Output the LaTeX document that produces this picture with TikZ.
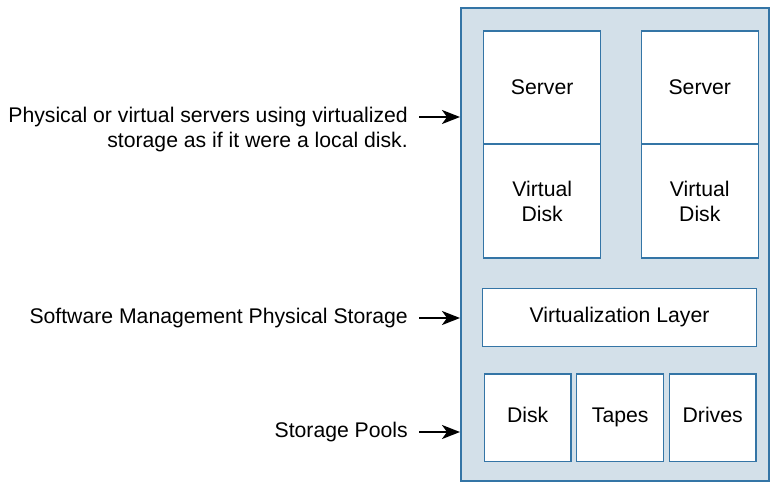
\documentclass[tikz,border=0pt]{standalone}
\usepackage{fontspec}
\setmainfont{Liberation Sans}
\usetikzlibrary{arrows.meta}
\definecolor{panelfill}{RGB}{211,224,233}
\definecolor{panelline}{RGB}{52,117,166}
\tikzset{
  panel/.style={draw=panelline,fill=panelfill,line width=2pt},
  unit/.style={draw=panelline,fill=white,line width=1.2pt,align=center,inner sep=0pt},
  pool/.style={unit,text height=15pt,text depth=4.5pt},
  caption/.style={anchor=east,inner sep=0pt},
  pointer/.style={-{Stealth[length=18pt,width=14pt,inset=5pt]},line width=2.4pt,shorten <=11pt}
}
\begin{document}
\begin{tikzpicture}[x=1pt,y=-1pt,font=\fontsize{21.2}{25}\selectfont]
\useasboundingbox (0,0) rectangle (770,483);
% draw outer panel
\node[panel,minimum width=308pt,minimum height=473pt] (panel) at (615,244.5) {};
% draw servers with their virtual disks
\node[unit,minimum width=117pt,minimum height=113pt] (srvA) at (542.2,87.5) {Server};
\node[unit,minimum width=117pt,minimum height=114pt] (vdA) at (542.2,201) {Virtual\\Disk};
\node[unit,minimum width=117pt,minimum height=113pt] (srvB) at (699.8,87.5) {Server};
\node[unit,minimum width=117pt,minimum height=114pt] (vdB) at (699.8,201) {Virtual\\Disk};
% draw virtualization layer
\node[unit,minimum width=273.6pt,minimum height=58pt] (layer) at (619.5,317.3) {Virtualization Layer};
% draw storage pools
\node[pool,minimum width=86.7pt,minimum height=87.3pt] (disk) at (527.7,417.7) {Disk};
\node[pool,minimum width=87pt,minimum height=87.3pt] (tapes) at (620.2,417.7) {Tapes};
\node[pool,minimum width=86.7pt,minimum height=87.3pt] (drives) at (712.7,417.7) {Drives};
% draw descriptions
\node[caption] (phys) at (408,117) {Physical or virtual servers using virtualized};
\node[caption,anchor=north east] (physb) at ([yshift=-5pt]phys.south east) {storage as if it were a local disk.};
\node[caption] (soft) at (408,318) {Software Management Physical Storage};
\node[caption] (pools) at (408,432) {Storage Pools};
% draw arrows
\draw[pointer] (phys.east) -- (phys.east -| panel.west);
\draw[pointer] (soft.east) -- (soft.east -| panel.west);
\draw[pointer] (pools.east) -- (pools.east -| panel.west);
\end{tikzpicture}
\end{document}
